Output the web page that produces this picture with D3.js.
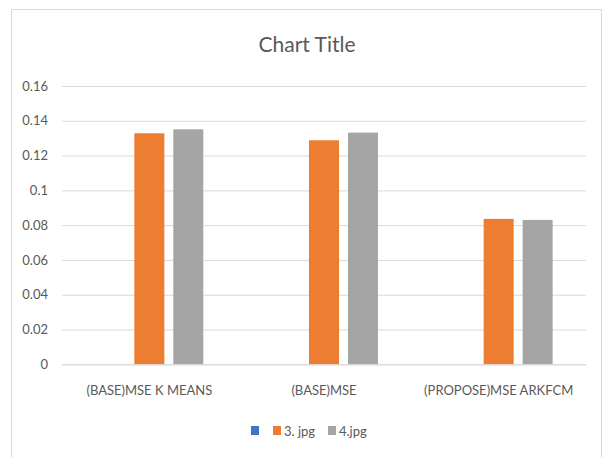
<!DOCTYPE html>
<html>
<head>
<meta charset="utf-8">
<script src="https://cdn.jsdelivr.net/npm/d3@7"></script>
<style>
  html, body { margin: 0; padding: 0; background: #fff; }
  svg { display: block; }
  text { font-family: Lato, "Open Sans", sans-serif; fill: #595959; }
</style>
</head>
<body>
<script>
const categories = ["(BASE)MSE K MEANS", "(BASE)MSE", "(PROPOSE)MSE ARKFCM"];
const seriesNames = ["", "3. jpg", "4.jpg"];
const seriesColors = ["#4472C4", "#ED7D31", "#A5A5A5"];
const series1 = [0, 0, 0];
const series2 = [0.1328, 0.1288, 0.0836];
const series3 = [0.1351, 0.1332, 0.0830];
const yTicks = [0, 0.02, 0.04, 0.06, 0.08, 0.1, 0.12, 0.14, 0.16];
const chartTitle = "Chart Title";

const seriesValues = [series1, series2, series3];
const W = 603, H = 457;
const plot = { left: 62, right: 586, top: 86, bottom: 364.3 };

const svg = d3.select("body").append("svg").attr("width", W).attr("height", H);

// chart frame
svg.append("rect").attr("x", 11.5).attr("y", 9.5).attr("width", 590).attr("height", 460)
  .attr("fill", "#fff").attr("stroke", "#d9d9d9").attr("stroke-width", 1);

const y = d3.scaleLinear().domain([0, 0.16]).range([plot.bottom, plot.top]);
const x0 = d3.scaleBand().domain(categories).range([plot.left, plot.right])
  .paddingInner(0.382).paddingOuter(0.191);
const x1 = d3.scaleBand().domain(d3.range(seriesNames.length)).range([0, x0.bandwidth()])
  .paddingInner(0.23).paddingOuter(0);

// gridlines
const yAxis = d3.axisLeft(y).tickValues(yTicks).tickSize(-(plot.right - plot.left))
  .tickPadding(14).tickFormat(d => d3.format("")(+d.toFixed(2)));
const gy = svg.append("g").attr("transform", `translate(${plot.left},0)`).call(yAxis);
gy.select(".domain").remove();
gy.selectAll(".tick line").attr("stroke", "#d9d9d9").attr("stroke-width", 1);
gy.selectAll(".tick text").attr("font-size", 13).style("fill", "#595959")
  .attr("font-family", "Lato, 'Open Sans', sans-serif");

// bars
const groups = svg.append("g").selectAll("g").data(categories).join("g")
  .attr("transform", d => `translate(${x0(d)},0)`);
groups.selectAll("rect")
  .data((c, ci) => seriesValues.map((vals, si) => ({ si, v: vals[ci] })))
  .join("rect")
  .attr("x", d => x1(d.si))
  .attr("width", x1.bandwidth())
  .attr("y", d => y(d.v))
  .attr("height", d => y(0) - y(d.v))
  .attr("fill", d => seriesColors[d.si]);

// category axis
const xAxis = d3.axisBottom(x0).tickSize(0).tickPadding(21);
const gx = svg.append("g").attr("transform", `translate(0,${plot.bottom})`).call(xAxis);
gx.select(".domain").attr("stroke", "#d9d9d9");
gx.selectAll(".tick text").attr("font-size", 13).style("fill", "#595959")
  .attr("font-family", "Lato, 'Open Sans', sans-serif");

// title
svg.append("text").attr("x", 307).attr("y", 52).attr("text-anchor", "middle")
  .attr("font-size", 21).text(chartTitle);

// legend
const legendX = [251, 273, 328];
const leg = svg.append("g").selectAll("g").data(seriesNames).join("g")
  .attr("transform", (d, i) => `translate(${legendX[i]},426)`);
leg.append("rect").attr("width", 8).attr("height", 9).attr("fill", (d, i) => seriesColors[i]);
leg.append("text").attr("x", 11).attr("y", 9.5).attr("font-size", 13).text(d => d);
</script>
</body>
</html>
